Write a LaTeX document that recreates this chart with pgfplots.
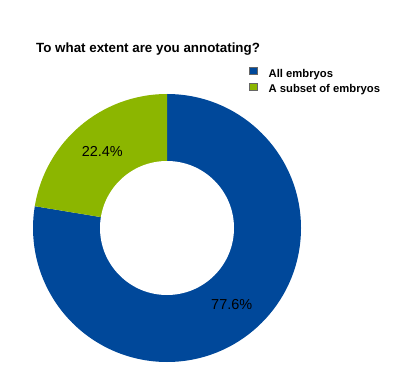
\documentclass[border=0pt]{standalone}
\usepackage{pgfplots}
\usepackage{pgfplotstable}
\pgfplotsset{compat=1.18}
\usepackage{fontspec}
\setmainfont{Liberation Sans}
\definecolor{cblue}{RGB}{0,72,154}
\definecolor{cgreen}{RGB}{140,182,0}
\pgfplotstableread{
label share
{All embryos} 77.6
{A subset of embryos} 22.4
}\datatable
\pgfplotstablegetelem{0}{share}\of\datatable \let\va\pgfplotsretval
\pgfplotstablegetelem{1}{share}\of\datatable \let\vb\pgfplotsretval
\pgfmathsetmacro\ea{90-3.6*\va}
\pgfmathsetmacro\ma{90-1.8*\va}
\pgfmathsetmacro\mb{\ea-1.8*\vb}
\begin{document}
\begin{tikzpicture}
\begin{axis}[
  width=405bp, height=390bp, scale only axis,
  xmin=0, xmax=405, ymin=0, ymax=390,
  hide axis, clip=false,
  legend style={at={(axis cs:249,323)}, anchor=north west, draw=none, fill=none,
    inner sep=0pt, font=\bfseries\fontsize{11.3}{13}\selectfont, row sep=2bp,
    cells={anchor=west},
    /tikz/every odd column/.append style={column sep=9bp}},
  legend image code/.code={\draw[#1, draw=black!60, line width=0.5bp] (0bp,-0.5bp) rectangle (8bp,6.5bp);},
]
\path (axis cs:0,0) rectangle (axis cs:405,390);
\fill[cblue] (axis cs:167,162) -- ++(90:134bp) arc[start angle=90, end angle=\ea, radius=134bp] -- cycle;
\fill[cgreen] (axis cs:167,162) -- ++(\ea:134bp) arc[start angle=\ea, end angle=-270, radius=134bp] -- cycle;
\fill[white] (axis cs:167,162) circle[radius=67bp];
\node[font=\fontsize{14.5}{16}\selectfont] at ([shift={(\ma:100bp)}]axis cs:167,162) {\va\%};
\node[font=\fontsize{14.5}{16}\selectfont] at ([shift={(\mb:100bp)}]axis cs:167,162) {\vb\%};
\node[anchor=base west, inner sep=0pt, font=\bfseries\fontsize{13.4}{15}\selectfont] at (axis cs:36,338) {To what extent are you annotating?};
\addlegendimage{fill=cblue}
\addlegendentry{All embryos}
\addlegendimage{fill=cgreen}
\addlegendentry{A subset of embryos}
\end{axis}
\end{tikzpicture}
\end{document}
